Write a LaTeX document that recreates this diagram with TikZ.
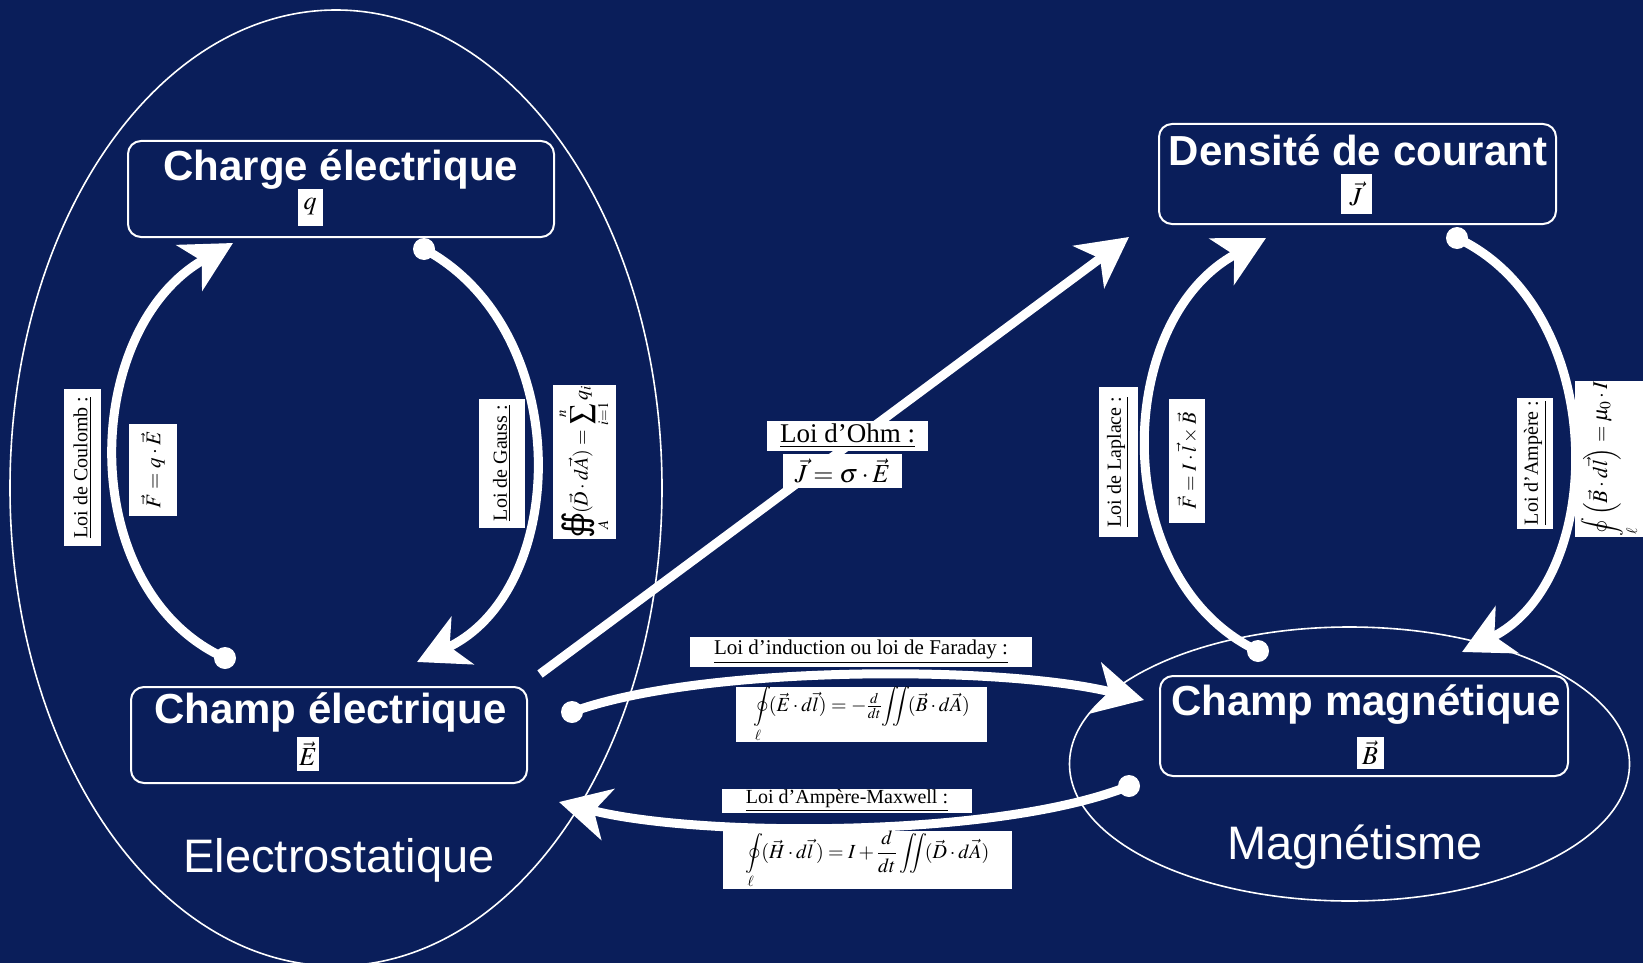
\documentclass[tikz,border=0pt]{standalone}
\usepackage{amsmath}
\usepackage{mathptmx}
\usepackage[no-math]{fontspec}
\setmainfont{Liberation Serif}
\setsansfont{Liberation Sans}
\newfontfamily\djv{DejaVu Sans}
\usetikzlibrary{arrows.meta}
\definecolor{navy}{RGB}{10,30,90}
\tikzset{
  boxnode/.style={draw=white, line width=2pt, rounded corners=13pt, fill=navy, inner sep=0pt},
  ttl/.style={text=white, font=\sffamily\bfseries\fontsize{42}{46}\selectfont, inner sep=0pt, anchor=base},
  vecbox/.style={fill=white, text=black, font=\fontsize{26}{28}\selectfont, inner sep=1pt},
  lbl/.style={fill=white, text=black, font=\fontsize{20}{22}\selectfont, inner sep=0pt},
  conn/.style={draw=white, line width=9pt, -{Stealth[length=50pt,width=52pt,inset=14pt]}},
  dotfill/.style={fill=white},
  regionline/.style={draw=white, line width=1.6pt},
  bigtxt/.style={text=white, font=\sffamily\fontsize{47}{50}\selectfont, inner sep=0pt, anchor=base}
}
\begin{document}
\begin{tikzpicture}[x=1pt,y=-1pt]
\useasboundingbox (0,0) rectangle (1643,963);
\fill[navy] (0,0) rectangle (1643,963);

% regions
\draw[regionline] (336,488) ellipse [x radius=326, y radius=478];
\draw[regionline] (1349.5,764) ellipse [x radius=280, y radius=137];

% boxes
\node[boxnode, minimum width=426pt, minimum height=96pt] (charge) at (341,189) {};
\node[boxnode, minimum width=397pt, minimum height=100pt] (densite) at (1357.5,174) {};
\node[boxnode, minimum width=396pt, minimum height=96pt] (champE) at (329,735) {};
\node[boxnode, minimum width=408pt, minimum height=100pt] (champB) at (1364,726) {};

\node[ttl] (chargeT) at (341,180) {Charge électrique};
\node[ttl] (densiteT) at (1358,165) {Densité de courant};
\node[ttl] (champET) at (330.5,723) {Champ électrique};
\node[ttl] (champBT) at (1366,715) {Champ magnétique};

\node[vecbox, minimum width=25pt, minimum height=37pt] (qv) at (310,207) {$q$};
\node[vecbox, minimum width=31pt, minimum height=40pt] (Jv) at (1356,194) {$\vec{J}$};
\node[vecbox, minimum width=22pt, minimum height=34pt] (Ev) at (308,754) {$\vec{E}$};
\node[vecbox, minimum width=27pt, minimum height=32pt] (Bv) at (1370,753) {$\vec{B}$};

\node[bigtxt] (electro) at (339,872) {Electrostatique};
\node[bigtxt] (magn) at (1355,859) {Magnétisme};

% connector end points
\coordinate (cS) at (225,658);  \coordinate (cE) at (233,243);
\coordinate (gS) at (424,249);  \coordinate (gE) at (417,662);
\coordinate (oS) at (540,674);  \coordinate (oE) at (1129,237);
\coordinate (lS) at (1258,651); \coordinate (lE) at (1266,238);
\coordinate (aS) at (1457,238); \coordinate (aE) at (1462,652);
\coordinate (fS) at (572,712);  \coordinate (fE) at (1144,700);
\coordinate (mS) at (1129,786); \coordinate (mE) at (559,802);

% connectors
\draw[conn] (cS) .. controls (75,590) and (80,330) .. (cE);
\draw[conn] (gS) .. controls (575,330) and (570,590) .. (gE);
\draw[conn] (oS) -- (oE);
\draw[conn] (lS) .. controls (1108,580) and (1112,320) .. (lE);
\draw[conn] (aS) .. controls (1610,310) and (1608,580) .. (aE);
\draw[conn] (fS) .. controls (700,665) and (1000,665) .. (fE);
\draw[conn] (mS) .. controls (1000,838) and (700,838) .. (mE);

\foreach \p in {cS,gS,lS,aS,fS,mS} \fill[dotfill] (\p) circle (11pt);

% labels
\node[lbl, rotate=90, minimum width=157pt, minimum height=37pt] (coulL) at (82.5,467.5) {\underline{Loi de Coulomb :}};
\node[lbl, rotate=90, minimum width=92pt, minimum height=48pt, font=\fontsize{21}{22}\selectfont] (coulF) at (153,470) {$\vec{F}=q\cdot\vec{E}$};
\node[lbl, rotate=90, minimum width=129pt, minimum height=46pt] (gaussL) at (502,463) {\underline{Loi de Gauss :}};
\node[lbl, rotate=90, minimum width=151pt, minimum height=63pt, font=\fontsize{20}{22}\selectfont] (gaussF) at (584,462) {$\displaystyle\mathop{\text{\djv\fontsize{34}{34}\selectfont ∯}}\limits_{A}\!(\vec{D}\cdot d\vec{A})=\sum_{i=1}^{n}q_i$};
\node[lbl, rotate=90, minimum width=150pt, minimum height=39pt] (lapL) at (1118,462) {\underline{Loi de Laplace :}};
\node[lbl, rotate=90, minimum width=124pt, minimum height=36pt] (lapF) at (1187,461) {$\vec{F}=I\cdot\vec{l}\times\vec{B}$};
\node[lbl, rotate=90, minimum width=131pt, minimum height=36pt] (ampL) at (1535,463) {\underline{Loi d'Ampère :}};
\node[lbl, rotate=90, minimum width=145pt, minimum height=71pt, font=\fontsize{21}{22}\selectfont] (ampF) at (1610,459) {$\displaystyle\oint\limits_{\ell}\left(\vec{B}\cdot d\vec{l}\right)=\mu_0\cdot I$};
\node[lbl, minimum width=161pt, minimum height=30pt, font=\fontsize{27}{29}\selectfont] (ohmL) at (847.5,436) {\underline{Loi d’Ohm :}};
\node[lbl, minimum width=119pt, minimum height=34pt, font=\fontsize{26}{28}\selectfont] (ohmF) at (842.5,471) {$\vec{J}=\sigma\cdot\vec{E}$};
\node[lbl, minimum width=342pt, minimum height=30pt, font=\fontsize{21}{22}\selectfont] (farL) at (861,652) {\underline{Loi d’induction ou loi de Faraday :}};
\node[lbl, minimum width=251pt, minimum height=47pt, font=\fontsize{20}{22}\selectfont] (farF) at (861.5,714.5) {$\displaystyle\oint\limits_{\ell}\!(\vec{E}\cdot d\vec{l})=-\tfrac{d}{dt}\!\iint\!(\vec{B}\cdot d\vec{A})$};
\node[lbl, minimum width=250pt, minimum height=24pt] (amL) at (847,801) {\underline{Loi d’Ampère-Maxwell :}};
\node[lbl, minimum width=289pt, minimum height=56pt, font=\fontsize{20}{22}\selectfont] (amF) at (867.5,860) {$\displaystyle\oint\limits_{\ell}\!(\vec{H}\cdot d\vec{l}\,)=I+\frac{d}{dt}\iint\!(\vec{D}\cdot d\vec{A})$};
\end{tikzpicture}
\end{document}
